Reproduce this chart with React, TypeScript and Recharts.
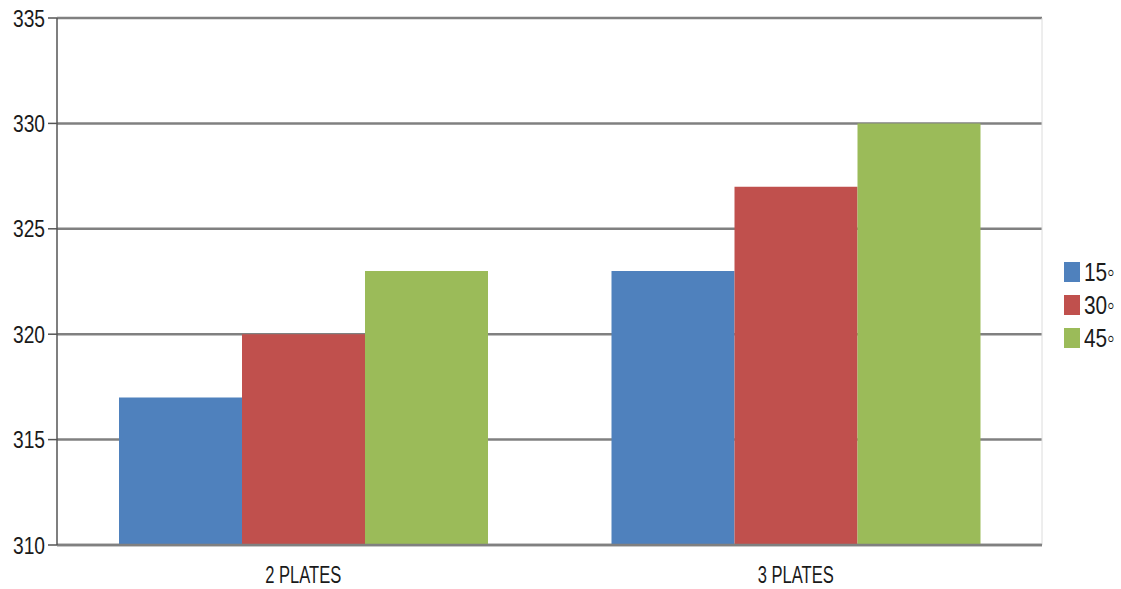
import React from 'react';
import { BarChart, Bar, XAxis, YAxis, CartesianGrid, Legend } from 'recharts';

const categories = ['2 PLATES', '3 PLATES'];
const series15 = [317, 323];
const series30 = [320, 327];
const series45 = [323, 330];
const yTicks = [310, 315, 320, 325, 330, 335];
const seriesNames = ['15◦', '30◦', '45◦'];
const colors = ['#4F81BD', '#C0504D', '#9BBB59'];

const data = categories.map((c, i) => ({
  name: c,
  s15: series15[i],
  s30: series30[i],
  s45: series45[i],
}));

const FONT = '"Liberation Sans", Arial, sans-serif';
const TEXT_COLOR = '#1a1a1a';

const YTick = (props: any) => {
  const { x, y, payload } = props;
  return (
    <text
      transform={`translate(${x},${y}) scale(0.8,1)`}
      textAnchor="end"
      dy="0.355em"
      fill={TEXT_COLOR}
      fontSize={24}
      fontFamily={FONT}
    >
      {payload.value}
    </text>
  );
};

const XTick = (props: any) => {
  const { x, y, payload } = props;
  return (
    <text
      transform={`translate(${x},${y}) scale(0.72,1)`}
      textAnchor="middle"
      dy="0.71em"
      fill={TEXT_COLOR}
      fontSize={23}
      fontFamily={FONT}
    >
      {payload.value}
    </text>
  );
};

const LegendContent = () => (
  <div style={{ fontFamily: FONT, fontSize: 26, color: TEXT_COLOR }}>
    {seriesNames.map((n, i) => (
      <div key={n} style={{ display: 'flex', alignItems: 'center', height: 33 }}>
        <div style={{ width: 16, height: 20, background: colors[i], marginRight: 4, flex: 'none' }} />
        <span style={{ display: 'inline-block', transform: 'scaleX(0.8)', transformOrigin: 'left center', whiteSpace: 'nowrap', lineHeight: '26px' }}>{n}</span>
      </div>
    ))}
  </div>
);

export default function App() {
  return (
    <div style={{ position: 'absolute', left: 0, top: 0, background: '#fff' }}>
      <BarChart
        width={1121}
        height={589}
        data={data}
        margin={{ top: 18, right: 19, bottom: 0, left: 0 }}
        barCategoryGap={62}
        barGap={0}
      >
        <CartesianGrid horizontal={true} vertical={false} stroke="#808080" strokeWidth={2.5} />
        <CartesianGrid horizontal={false} vertical={true} verticalPoints={[1042]} stroke="#dcdcdc" strokeWidth={1} />
        <XAxis
          dataKey="name"
          xAxisId="cat"
          height={44}
          tickLine={false}
          axisLine={{ stroke: '#808080', strokeWidth: 2.5 }}
          tickSize={6}
          tickMargin={16}
          tick={<XTick />}
        />
        <XAxis
          xAxisId="ticks"
          type="number"
          domain={[0, 2]}
          ticks={[0, 1, 2]}
          height={0}
          tick={false}
          axisLine={false}
          tickLine={{ stroke: '#555', strokeWidth: 1 }}
          tickSize={8}
        />
        <YAxis
          width={57}
          domain={[310, 335]}
          ticks={yTicks}
          allowDataOverflow
          axisLine={{ stroke: '#555', strokeWidth: 1.5 }}
          tickLine={{ stroke: '#555', strokeWidth: 1.5 }}
          tickSize={9}
          tickMargin={3}
          tick={<YTick />}
        />
        <Legend
          layout="vertical"
          align="right"
          verticalAlign="top"
          content={<LegendContent />}
          wrapperStyle={{ left: 1064, top: 255, width: 60 }}
        />
        <Bar dataKey="s15" name={seriesNames[0]} xAxisId="cat" fill={colors[0]} isAnimationActive={false} />
        <Bar dataKey="s30" name={seriesNames[1]} xAxisId="cat" fill={colors[1]} isAnimationActive={false} />
        <Bar dataKey="s45" name={seriesNames[2]} xAxisId="cat" fill={colors[2]} isAnimationActive={false} />
      </BarChart>
    </div>
  );
}
